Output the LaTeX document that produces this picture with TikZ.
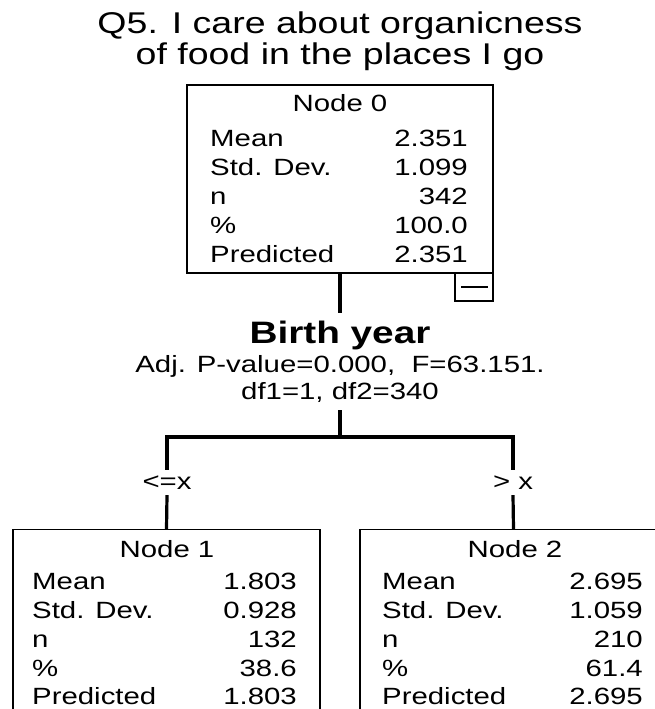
\documentclass[tikz,border=0pt]{standalone}
\usepackage{fontspec}
\setmainfont{Liberation Sans}[FakeStretch=1.25]
\begin{document}
\begin{tikzpicture}[x=1pt,y=-1pt,
  box/.style={draw=black, line width=1.3pt, fill=white, inner sep=0pt},
  conn/.style={draw=black, line width=3.2pt, line join=miter},
  ttl/.style={font=\fontsize{30}{34}\selectfont, anchor=base, inner sep=0pt},
  txt/.style={font=\fontsize{23.5}{27}\selectfont, inner sep=0pt},
  lft/.style={txt, anchor=base west},
  rgt/.style={txt, anchor=base east},
  ctr/.style={txt, anchor=base},
  var/.style={font=\bfseries\fontsize{31}{34}\selectfont, anchor=base, inner sep=0pt},
  lab/.style={txt, minimum height=25pt, inner sep=0pt}
]
\useasboundingbox (0,0) rectangle (655,709);
\clip (0,0) rectangle (655,709);
\fill[white] (0,0) rectangle (655,709);

% title
\node[ttl] (t1) at (340,34) {Q5. I care about organicness};
\node[ttl] (t2) at (340,64) {of food in the places I go};

% Node 0
\node[box, minimum width=306pt, minimum height=188pt] (n0) at (340,179) {};
\node[ctr] (n0t) at (340,111) {Node 0};
\node[lft] (n0a) at (210,146) {Mean};        \node[rgt] (n0av) at (468,146) {2.351};
\node[lft] (n0b) at (210,175) {Std. Dev.};   \node[rgt] (n0bv) at (468,175) {1.099};
\node[lft] (n0c) at (210,204) {n};           \node[rgt] (n0cv) at (468,204) {342};
\node[lft] (n0d) at (210,233) {\%};          \node[rgt] (n0dv) at (468,233) {100.0};
\node[lft] (n0e) at (210,262) {Predicted};   \node[rgt] (n0ev) at (468,262) {2.351};
\node[box, minimum width=38pt, minimum height=28pt] (mb) at (474,287) {};
\draw[line width=1.8pt] ([xshift=7pt]mb.west) -- ([xshift=-6pt]mb.east);

% split variable
\coordinate (v1) at (340,313);
\coordinate (v2) at (340,410);
\coordinate (fork) at (340,437);
\draw[conn] (n0.south) -- (v1);
\node[var] (bv) at (340,343) {Birth year};
\node[ctr] (bs1) at (340,372) {Adj. P-value=0.000,\ \ F=63.151.};
\node[ctr] (bs2) at (340,399) {df1=1, df2=340};
\draw[conn] (v2) -- (fork);

% branch labels
\node[lab] (l1) at (167,482.5) {<=x};
\node[lab] (l2) at (513,482.5) {>\ x};
\draw[conn] (l1.north) |- (fork) -| (l2.north);

% Node 1
\node[box, minimum width=307pt, minimum height=220pt, anchor=north] (n1) at (166.5,529) {};
\node[ctr] (n1t) at (167,557) {Node 1};
\node[lft] (n1a) at (32,589) {Mean};        \node[rgt] (n1av) at (297,589) {1.803};
\node[lft] (n1b) at (32,618) {Std. Dev.};   \node[rgt] (n1bv) at (297,618) {0.928};
\node[lft] (n1c) at (32,647) {n};           \node[rgt] (n1cv) at (297,647) {132};
\node[lft] (n1d) at (32,676) {\%};          \node[rgt] (n1dv) at (297,676) {38.6};
\node[lft] (n1e) at (32,704) {Predicted};   \node[rgt] (n1ev) at (297,704) {1.803};

% Node 2
\node[box, minimum width=307pt, minimum height=220pt, anchor=north] (n2) at (513.5,529) {};
\node[ctr] (n2t) at (515,557) {Node 2};
\node[lft] (n2a) at (382,589) {Mean};        \node[rgt] (n2av) at (643,589) {2.695};
\node[lft] (n2b) at (382,618) {Std. Dev.};   \node[rgt] (n2bv) at (643,618) {1.059};
\node[lft] (n2c) at (382,647) {n};           \node[rgt] (n2cv) at (643,647) {210};
\node[lft] (n2d) at (382,676) {\%};          \node[rgt] (n2dv) at (643,676) {61.4};
\node[lft] (n2e) at (382,704) {Predicted};   \node[rgt] (n2ev) at (643,704) {2.695};

\draw[conn] (l1.south) -- (n1.north);
\draw[conn] (l2.south) -- (n2.north);
\end{tikzpicture}
\end{document}
